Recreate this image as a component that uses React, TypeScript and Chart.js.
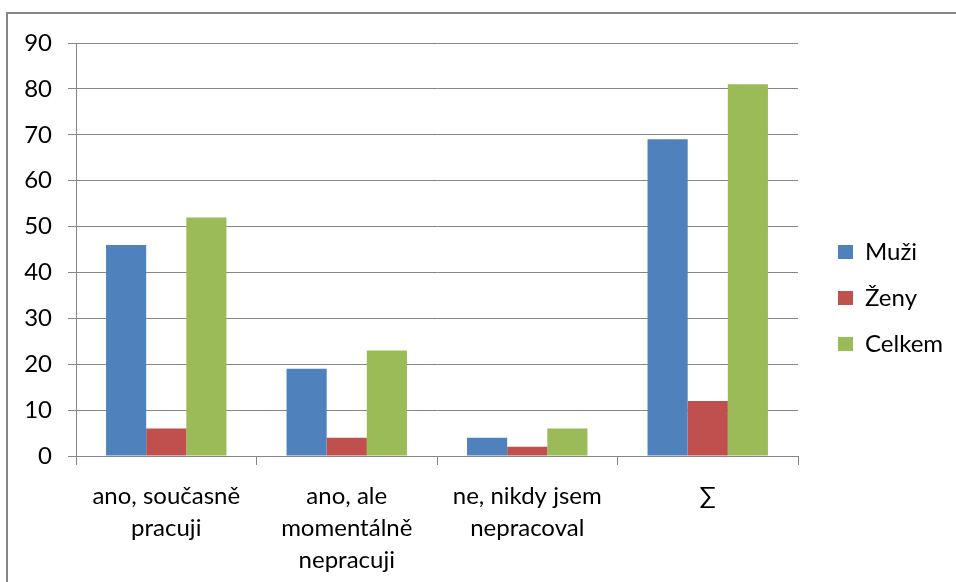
import React, { useEffect, useRef } from "react";
import { Chart, registerables } from "chart.js";

Chart.register(...registerables);

const categories: (string | string[])[] = [
  ["ano, současně", "pracuji"],
  ["ano, ale", "momentálně", "nepracuji"],
  ["ne, nikdy jsem", "nepracoval"],
  "∑",
];
const muzi = [46, 19, 4, 69];
const zeny = [6, 4, 2, 12];
const celkem = [52, 23, 6, 81];
const seriesNames = ["Muži", "Ženy", "Celkem"];

const FONT = "Lato";
const GRID = "#868686";

const legendPlacer = {
  id: "legendPlacer",
  afterLayout(chart: any) {
    const lg = chart.legend;
    if (!lg) return;
    const pad = lg.options.labels.padding;
    const h = lg.height;
    lg.left = 838 - pad;
    lg.right = 956;
    lg.width = lg.right - lg.left;
    lg.top = 218;
    lg.bottom = lg.top + h;
  },
};

export default function App() {
  const ref = useRef<HTMLCanvasElement | null>(null);
  useEffect(() => {
    if (!ref.current) return;
    const chart = new Chart(ref.current, {
      type: "bar",
      data: {
        labels: categories,
        datasets: [
          { label: seriesNames[0], data: muzi, backgroundColor: "#4F81BD" },
          { label: seriesNames[1], data: zeny, backgroundColor: "#C0504D" },
          { label: seriesNames[2], data: celkem, backgroundColor: "#9BBB59" },
        ],
      },
      plugins: [legendPlacer],
      options: {
        responsive: false,
        animation: false,
        devicePixelRatio: 1,
        layout: { padding: { left: 0, top: 43, right: 38, bottom: 0 } },
        datasets: {
          bar: { categoryPercentage: 0.667, barPercentage: 1 },
        },
        plugins: {
          tooltip: { enabled: false },
          legend: {
            position: "right",
            align: "start",
            maxWidth: 120,
            labels: {
              boxWidth: 15,
              boxHeight: 14,
              padding: 22,
              color: "#000",
              font: { family: FONT, size: 24 },
            },
          },
        },
        scales: {
          x: {
            grid: {
              drawOnChartArea: false,
              drawTicks: true,
              tickLength: 9,
              color: GRID,
              offset: true,
            },
            border: { display: true, color: GRID, width: 1 },
            ticks: {
              color: "#000",
              padding: 15,
              maxRotation: 0,
              autoSkip: false,
              font: { family: FONT, size: 24, lineHeight: "32px" },
            },
            afterFit: (s: any) => {
              s.height = 582 - 456;
            },
          },
          y: {
            min: 0,
            max: 90,
            ticks: {
              stepSize: 10,
              color: "#000",
              padding: 16,
              font: { family: FONT, size: 24 },
            },
            grid: { color: GRID, tickLength: 8, lineWidth: 1 },
            border: { display: true, color: GRID, width: 1 },
            afterFit: (s: any) => {
              s.width = 76;
            },
          },
        },
      },
    });
    return () => chart.destroy();
  }, []);
  return (
    <div style={{ position: "fixed", left: 0, top: 0, width: 956, height: 582, overflow: "hidden", background: "#fff" }}>
      <div
        style={{
          position: "absolute",
          left: 6,
          top: 12,
          width: 1200,
          height: 1200,
          borderTop: `2px solid ${GRID}`,
          borderLeft: `2px solid ${GRID}`,
        }}
      />
      <canvas ref={ref} width={956} height={582} style={{ position: "absolute", left: 0, top: 0, width: 956, height: 582 }} />
    </div>
  );
}
